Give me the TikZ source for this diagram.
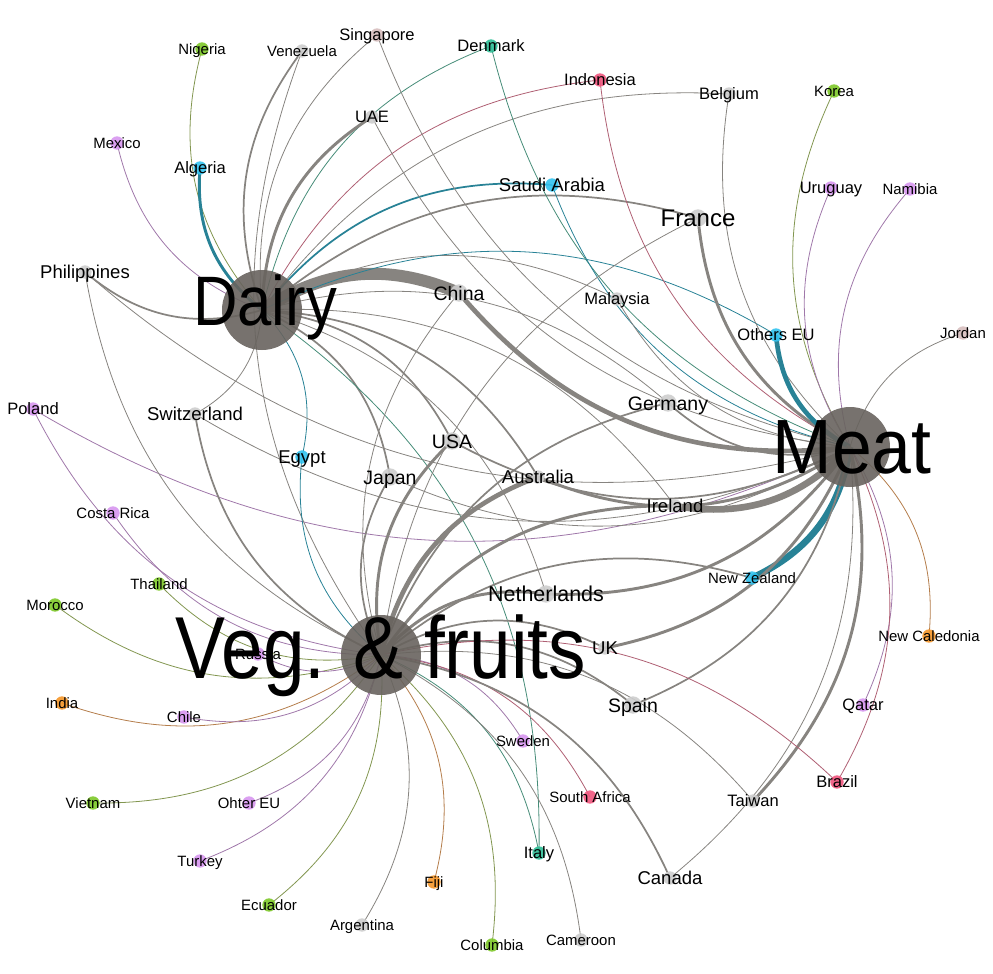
\documentclass[tikz,border=0pt]{standalone}
\usepackage{fontspec}
\setmainfont{Liberation Sans}

\definecolor{hubGray}{RGB}{104,99,94}
\definecolor{ndGray}{RGB}{205,205,205}
\definecolor{ndGreen}{RGB}{125,200,40}
\definecolor{ndCyan}{RGB}{50,195,240}
\definecolor{ndTeal}{RGB}{45,190,150}
\definecolor{ndRose}{RGB}{240,85,125}
\definecolor{ndViolet}{RGB}{215,150,240}
\definecolor{ndOrange}{RGB}{245,150,40}
\definecolor{ndBlush}{RGB}{215,190,190}
\definecolor{edGray}{RGB}{135,132,128}
\definecolor{edGreen}{RGB}{130,150,80}
\definecolor{edCyan}{RGB}{40,130,150}
\definecolor{edTeal}{RGB}{70,140,120}
\definecolor{edRose}{RGB}{175,95,115}
\definecolor{edViolet}{RGB}{160,120,170}
\definecolor{edOrange}{RGB}{180,125,75}

\pgfdeclarelayer{edges}
\pgfsetlayers{edges,main}

\tikzset{every picture/.style={line width=0.75pt}}
\tikzset{
	curvy/.style={bend left=28},
	w1/.style={line width=0.6pt},
	w2/.style={line width=1.3pt},
	w3/.style={line width=2.2pt},
	w4/.style={line width=3.5pt},
	w5/.style={line width=5pt},
	w6/.style={line width=9pt},
	dot/.style={circle, inner sep=0pt, minimum size=10pt, fill opacity=0.9},
	bigdot/.style={dot, minimum size=13pt},
	hub/.style={circle, inner sep=0pt, minimum size=60pt, fill=hubGray, fill opacity=0.9},
	lbA/.style={inner sep=0pt, anchor=center, text height=8pt, text depth=0pt, font=\fontsize{11.2}{12}\selectfont},
	lbB/.style={inner sep=0pt, anchor=center, text height=8.9pt, text depth=0pt, font=\fontsize{12.4}{13}\selectfont},
	lbC/.style={inner sep=0pt, anchor=center, text height=10pt, text depth=0pt, font=\fontsize{13.9}{14}\selectfont},
	lbD/.style={inner sep=0pt, anchor=center, text height=10.5pt, text depth=0pt, font=\fontsize{14.6}{15}\selectfont},
	lbE/.style={inner sep=0pt, anchor=center, text height=11.6pt, text depth=0pt, font=\fontsize{16.1}{17}\selectfont},
	lbF/.style={inner sep=0pt, anchor=center, text height=13pt, text depth=0pt, font=\fontsize{18}{19}\selectfont},
	hubtext/.style={inner sep=0pt, anchor=base}
}

\begin{document}
\begin{tikzpicture}[x=0.75pt,y=0.75pt,yscale=-1,xscale=1]
	\useasboundingbox (0,0) rectangle (993,974);

	%Shape: Circle (hubs)
	\node[hub] (dairy) at (262,310) {};
	\node[hub] (meat) at (850,447) {};
	\node[hub] (veg) at (381,655) {};

	%Shape: Circle (countries)
	\node[dot, fill=ndGreen] (nig) at (202,49) {};
	\node[dot, fill=ndGray] (ven) at (302,51) {};
	\node[dot, fill=ndBlush] (sgp) at (377,35) {};
	\node[dot, fill=ndTeal] (den) at (491,46) {};
	\node[dot, fill=ndRose] (idn) at (600,80) {};
	\node[dot, fill=ndGray] (bel) at (729,94) {};
	\node[dot, fill=ndGreen] (kor) at (834,91) {};
	\node[dot, fill=ndGray] (uae) at (372,117) {};
	\node[dot, fill=ndViolet] (mex) at (117,143) {};
	\node[dot, fill=ndCyan] (alg) at (200,168) {};
	\node[dot, fill=ndCyan] (sau) at (552,185) {};
	\node[dot, fill=ndViolet] (uru) at (831,188) {};
	\node[dot, fill=ndViolet] (nam) at (910,189) {};
	\node[bigdot, fill=ndGray] (fra) at (698,218) {};
	\node[dot, fill=ndGray] (phl) at (85,272) {};
	\node[bigdot, fill=ndGray] (chn) at (459,293) {};
	\node[dot, fill=ndGray] (mys) at (617,299) {};
	\node[dot, fill=ndCyan] (oeu) at (776,335) {};
	\node[dot, fill=ndBlush] (jor) at (963,333) {};
	\node[dot, fill=ndViolet] (pol) at (33,409) {};
	\node[dot, fill=ndGray] (che) at (195,414) {};
	\node[bigdot, fill=ndGray] (deu) at (668,403) {};
	\node[bigdot, fill=ndGray] (usa) at (452,441) {};
	\node[dot, fill=ndCyan] (egy) at (302,457) {};
	\node[bigdot, fill=ndGray] (jpn) at (390,477) {};
	\node[dot, fill=ndGray] (aus) at (538,477) {};
	\node[dot, fill=ndGray] (irl) at (675,506) {};
	\node[dot, fill=ndViolet] (cri) at (113,513) {};
	\node[dot, fill=ndGreen] (tha) at (159,584) {};
	\node[dot, fill=ndCyan] (nzl) at (752,578) {};
	\node[bigdot, fill=ndGray] (nld) at (546,594) {};
	\node[dot, fill=ndGreen] (mar) at (55,605) {};
	\node[dot, fill=ndViolet] (rus) at (258,654) {};
	\node[dot, fill=ndGray] (gbr) at (605,648) {};
	\node[dot, fill=ndOrange] (ncl) at (929,636) {};
	\node[dot, fill=ndOrange] (ind) at (62,703) {};
	\node[dot, fill=ndViolet] (chl) at (184,717) {};
	\node[bigdot, fill=ndGray] (esp) at (633,705) {};
	\node[dot, fill=ndViolet] (qat) at (863,705) {};
	\node[dot, fill=ndViolet] (swe) at (523,741) {};
	\node[dot, fill=ndRose] (zaf) at (590,797) {};
	\node[dot, fill=ndRose] (bra) at (837,782) {};
	\node[dot, fill=ndGray] (twn) at (753,801) {};
	\node[dot, fill=ndGreen] (vnm) at (93,803) {};
	\node[dot, fill=ndViolet] (oth) at (249,803) {};
	\node[dot, fill=ndViolet] (tur) at (200,861) {};
	\node[dot, fill=ndTeal] (ita) at (539,853) {};
	\node[dot, fill=ndOrange] (fji) at (434,882) {};
	\node[dot, fill=ndGray] (can) at (670,878) {};
	\node[dot, fill=ndGreen] (ecu) at (269,905) {};
	\node[dot, fill=ndGray] (arg) at (362,925) {};
	\node[dot, fill=ndGreen] (col) at (492,945) {};
	\node[dot, fill=ndGray] (cmr) at (581,940) {};

	\begin{pgfonlayer}{edges}
	%Curve Lines (to Dairy)
	\draw[edGreen, w1] (nig.center) to[curvy] (dairy.center);
	\draw[edGray, w2] (ven.center) to[curvy] (dairy.center);
	\draw[edGray, w1] (sgp.center) to[curvy] (dairy.center);
	\draw[edTeal, w1] (den.center) to[curvy] (dairy.center);
	\draw[edRose, w1] (idn.center) to[curvy] (dairy.center);
	\draw[edGray, w1] (bel.center) to[curvy] (dairy.center);
	\draw[edGray, w3] (uae.center) to[curvy] (dairy.center);
	\draw[edViolet, w1] (mex.center) to[curvy] (dairy.center);
	\draw[edCyan, w3] (alg.center) to[curvy] (dairy.center);
	\draw[edCyan, w2] (sau.center) to[curvy] (dairy.center);
	\draw[edGray, w2] (fra.center) to[curvy] (dairy.center);
	\draw[edGray, w2] (phl.center) to[curvy] (dairy.center);
	\draw[edGray, w6] (chn.center) to[curvy] (dairy.center);
	\draw[edGray, w1] (mys.center) to[curvy] (dairy.center);
	\draw[edCyan, w1] (oeu.center) to[curvy] (dairy.center);
	\draw[edGray, w1] (che.center) to[curvy] (dairy.center);
	\draw[edGray, w1] (deu.center) to[curvy] (dairy.center);
	\draw[edGray, w2] (usa.center) to[curvy] (dairy.center);
	\draw[edCyan, w1] (egy.center) to[curvy] (dairy.center);
	\draw[edGray, w2] (jpn.center) to[curvy] (dairy.center);
	\draw[edGray, w2] (aus.center) to[curvy] (dairy.center);
	\draw[edGray, w1] (irl.center) to[curvy] (dairy.center);
	\draw[edGray, w1] (nld.center) to[curvy] (dairy.center);
	\draw[edTeal, w1] (ita.center) to[curvy] (dairy.center);

	%Curve Lines (to Meat)
	\draw[edGray, w1] (sgp.center) to[curvy] (meat.center);
	\draw[edTeal, w1] (den.center) to[curvy] (meat.center);
	\draw[edRose, w1] (idn.center) to[curvy] (meat.center);
	\draw[edGray, w1] (bel.center) to[curvy] (meat.center);
	\draw[edGreen, w1] (kor.center) to[curvy] (meat.center);
	\draw[edGray, w1] (uae.center) to[curvy] (meat.center);
	\draw[edCyan, w1] (sau.center) to[curvy] (meat.center);
	\draw[edViolet, w1] (uru.center) to[curvy] (meat.center);
	\draw[edViolet, w1] (nam.center) to[curvy] (meat.center);
	\draw[edGray, w3] (fra.center) to[curvy] (meat.center);
	\draw[edGray, w1] (phl.center) to[curvy] (meat.center);
	\draw[edGray, w4] (chn.center) to[curvy] (meat.center);
	\draw[edGray, w1] (mys.center) to[curvy] (meat.center);
	\draw[edCyan, w4] (oeu.center) to[curvy] (meat.center);
	\draw[edGray, w1] (jor.center) to[curvy] (meat.center);
	\draw[edViolet, w1] (pol.center) to[curvy] (meat.center);
	\draw[edGray, w1] (che.center) to[curvy] (meat.center);
	\draw[edGray, w2] (deu.center) to[curvy] (meat.center);
	\draw[edGray, w2] (usa.center) to[curvy] (meat.center);
	\draw[edGray, w1] (jpn.center) to[curvy] (meat.center);
	\draw[edGray, w3] (aus.center) to[curvy] (meat.center);
	\draw[edGray, w5] (irl.center) to[curvy] (meat.center);
	\draw[edCyan, w5] (nzl.center) to[curvy] (meat.center);
	\draw[edGray, w3] (nld.center) to[curvy] (meat.center);
	\draw[edGray, w3] (gbr.center) to[curvy] (meat.center);
	\draw[edOrange, w1] (ncl.center) to[curvy] (meat.center);
	\draw[edGray, w2] (esp.center) to[curvy] (meat.center);
	\draw[edViolet, w1] (qat.center) to[curvy] (meat.center);
	\draw[edRose, w1] (bra.center) to[curvy] (meat.center);
	\draw[edGray, w3] (twn.center) to[curvy] (meat.center);
	\draw[edGray, w1] (can.center) to[curvy] (meat.center);

	%Curve Lines (to Veg. & fruits)
	\draw[edGray, w1] (ven.center) to[curvy] (veg.center);
	\draw[edGray, w1] (phl.center) to[curvy] (veg.center);
	\draw[edGray, w1] (chn.center) to[curvy] (veg.center);
	\draw[edGray, w1] (fra.center) to[curvy] (veg.center);
	\draw[edViolet, w1] (pol.center) to[curvy] (veg.center);
	\draw[edGray, w2] (che.center) to[curvy] (veg.center);
	\draw[edGray, w2] (deu.center) to[curvy] (veg.center);
	\draw[edGray, w3] (usa.center) to[curvy] (veg.center);
	\draw[edCyan, w1] (egy.center) to[curvy] (veg.center);
	\draw[edGray, w2] (jpn.center) to[curvy] (veg.center);
	\draw[edGray, w4] (aus.center) to[curvy] (veg.center);
	\draw[edGray, w3] (irl.center) to[curvy] (veg.center);
	\draw[edViolet, w1] (cri.center) to[curvy] (veg.center);
	\draw[edGreen, w1] (tha.center) to[curvy] (veg.center);
	\draw[edGray, w2] (nzl.center) to[curvy] (veg.center);
	\draw[edGray, w3] (nld.center) to[curvy] (veg.center);
	\draw[edGreen, w1] (mar.center) to[curvy] (veg.center);
	\draw[edViolet, w1] (rus.center) to[curvy] (veg.center);
	\draw[edGray, w2] (gbr.center) to[curvy] (veg.center);
	\draw[edOrange, w1] (ind.center) to[curvy] (veg.center);
	\draw[edViolet, w1] (chl.center) to[curvy] (veg.center);
	\draw[edGray, w2] (esp.center) to[curvy] (veg.center);
	\draw[edViolet, w1] (swe.center) to[curvy] (veg.center);
	\draw[edRose, w1] (zaf.center) to[curvy] (veg.center);
	\draw[edRose, w1] (bra.center) to[curvy] (veg.center);
	\draw[edGray, w1] (twn.center) to[curvy] (veg.center);
	\draw[edGreen, w1] (vnm.center) to[curvy] (veg.center);
	\draw[edViolet, w1] (oth.center) to[curvy] (veg.center);
	\draw[edViolet, w1] (tur.center) to[curvy] (veg.center);
	\draw[edTeal, w1] (ita.center) to[curvy] (veg.center);
	\draw[edOrange, w1] (fji.center) to[curvy] (veg.center);
	\draw[edGray, w2] (can.center) to[curvy] (veg.center);
	\draw[edGreen, w1] (ecu.center) to[curvy] (veg.center);
	\draw[edGray, w1] (arg.center) to[curvy] (veg.center);
	\draw[edGreen, w1] (col.center) to[curvy] (veg.center);
	\draw[edGray, w1] (cmr.center) to[curvy] (veg.center);
	\end{pgfonlayer}

	% Text Node
	\node[lbA] (nigT) at (nig) {Nigeria};
	\node[lbA] (venT) at (ven) {Venezuela};
	\node[lbB] (sgpT) at (sgp) {Singapore};
	\node[lbB] (denT) at (den) {Denmark};
	\node[lbB] (idnT) at (idn) {Indonesia};
	\node[lbB] (belT) at (bel) {Belgium};
	\node[lbA] (korT) at (kor) {Korea};
	\node[lbB] (uaeT) at (uae) {UAE};
	\node[lbA] (mexT) at (mex) {Mexico};
	\node[lbB] (algT) at (alg) {Algeria};
	\node[lbC] (sauT) at (sau) {Saudi Arabia};
	\node[lbB] (uruT) at (uru) {Uruguay};
	\node[lbA] (namT) at (nam) {Namibia};
	\node[lbF] (fraT) at (fra) {France};
	\node[lbC] (phlT) at (phl) {Philippines};
	\node[lbD] (chnT) at (chn) {China};
	\node[lbB] (mysT) at (mys) {Malaysia};
	\node[lbB] (oeuT) at (oeu) {Others EU};
	\node[lbA] (jorT) at (jor) {Jordan};
	\node[lbB] (polT) at (pol) {Poland};
	\node[lbC] (cheT) at (che) {Switzerland};
	\node[lbD] (deuT) at (deu) {Germany};
	\node[lbD] (usaT) at (usa) {USA};
	\node[lbC] (egyT) at (egy) {Egypt};
	\node[lbD] (jpnT) at (jpn) {Japan};
	\node[lbC] (ausT) at (aus) {Australia};
	\node[lbC] (irlT) at (irl) {Ireland};
	\node[lbA] (criT) at (cri) {Costa Rica};
	\node[lbA] (thaT) at (tha) {Thailand};
	\node[lbA] (nzlT) at (nzl) {New Zealand};
	\node[lbE] (nldT) at (nld) {Netherlands};
	\node[lbA] (marT) at (mar) {Morocco};
	\node[lbA] (rusT) at (rus) {Russia};
	\node[lbC] (gbrT) at (gbr) {UK};
	\node[lbA] (nclT) at (ncl) {New Caledonia};
	\node[lbA] (indT) at (ind) {India};
	\node[lbA] (chlT) at (chl) {Chile};
	\node[lbD] (espT) at (esp) {Spain};
	\node[lbB] (qatT) at (qat) {Qatar};
	\node[lbA] (sweT) at (swe) {Sweden};
	\node[lbA] (zafT) at (zaf) {South Africa};
	\node[lbB] (braT) at (bra) {Brazil};
	\node[lbB] (twnT) at (twn) {Taiwan};
	\node[lbA] (vnmT) at (vnm) {Vietnam};
	\node[lbA] (othT) at (oth) {Ohter EU};
	\node[lbA] (turT) at (tur) {Turkey};
	\node[lbB] (itaT) at (ita) {Italy};
	\node[lbA] (fjiT) at (fji) {Fiji};
	\node[lbC] (canT) at (can) {Canada};
	\node[lbA] (ecuT) at (ecu) {Ecuador};
	\node[lbA] (argT) at (arg) {Argentina};
	\node[lbA] (colT) at (col) {Columbia};
	\node[lbA] (cmrT) at (cmr) {Cameroon};

	% Text Node (hubs)
	\node[hubtext, font=\fontsize{52.5}{53}\selectfont, xscale=0.88] (dairyT) at (265,325) {Dairy};
	\node[hubtext, font=\fontsize{57.7}{58}\selectfont, xscale=0.93] (meatT) at (852,473) {Meat};
	\node[hubtext, font=\fontsize{66}{66}\selectfont, xscale=0.85] (vegT) at (381,678) {Veg. \& fruits};

\end{tikzpicture}
\end{document}
